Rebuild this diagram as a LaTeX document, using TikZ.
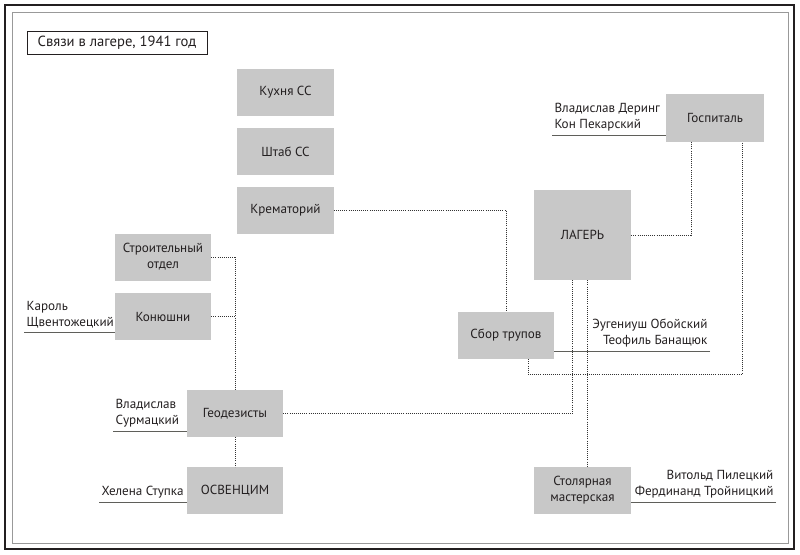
\documentclass[tikz,border=0pt]{standalone}
\usepackage{fontspec}
\setmainfont{PT Sans}
\usetikzlibrary{calc}
\definecolor{boxgray}{RGB}{200,200,200}
\definecolor{ink}{RGB}{35,31,32}
\definecolor{rulegray}{RGB}{95,95,90}

\begin{document}
\begin{tikzpicture}[x=0.03cm, y=-0.03cm,
		box/.style={fill=boxgray, text=ink, align=center, font=\fontsize{11.2}{13.6}\selectfont, minimum width=2.88cm, minimum height=1.41cm, inner sep=0},
		who/.style={text=ink, align=left, font=\fontsize{11.2}{13.6}\selectfont, inner xsep=2pt, inner ysep=3pt},
		uline/.style={line width=0.8pt, color=rulegray},
		link/.style={line width=0.8pt, color=black!80, dash pattern=on 0.7pt off 1.1pt}]
			%%%%% START %%%%%
			
			\useasboundingbox (0, 0) rectangle (800, 555);
			\draw[line width=1.4pt, color=ink] (5, 5) rectangle (794, 549);
			\draw[line width=0.8pt, color=black!40] (12, 12) rectangle (788, 543);
			
			\node[draw=ink, line width=0.7pt, text=ink, font=\fontsize{12.5}{15}\selectfont, minimum width=5.4cm, minimum height=0.69cm, inner sep=0] (title) at (117, 42.5) {Связи в лагере, 1941 год};
			
			\node[box] (kuhnya) at (285.5, 92) {Кухня СС};
			\node[box] (shtab) at (285.5, 151.5) {Штаб СС};
			\node[box] (krem) at (285.5, 210) {Крематорий};
			\node[box] (stroy) at (163, 257) {Строительный\\отдел};
			\node[box] (konyu) at (163, 316.5) {Конюшни};
			\node[box] (geod) at (235, 413.5) {Геодезисты};
			\node[box] (osv) at (235, 490.5) {ОСВЕНЦИМ};
			\node[box, minimum width=2.94cm, minimum height=1.44cm] (gosp) at (715, 118) {Госпиталь};
			\node[box, minimum width=2.91cm, minimum height=2.7cm] (lager) at (582.5, 235) {ЛАГЕРЬ};
			\node[box] (sbor) at (506, 335.5) {Сбор трупов};
			\node[box, minimum width=2.91cm] (stol) at (582.5, 490.5) {Столярная\\мастерская};
			
			\node[who, anchor=south west] (dering) at (552, 135) {Владислав Деринг\\Кон Пекарский};
			\node[who, anchor=south west] (karol) at (24, 332) {Кароль\\Щвентожецкий};
			\node[who, anchor=south west] (surm) at (113, 431) {Владислав\\Сурмацкий};
			\node[who, anchor=south west] (stupka) at (99, 502) {Хелена Ступка};
			\node[who, anchor=south east, align=right] (oboy) at (710, 351) {Эугениуш Обойский\\Теофиль Банащюк};
			\node[who, anchor=south east, align=right] (pilecki) at (776, 502) {Витольд Пилецкий\\Фердинанд Тройницкий};
			
			\draw[uline] (dering.south west) -- (dering.south west -| gosp.west);
			\draw[uline] (karol.south west) -- (karol.south west -| konyu.west);
			\draw[uline] (surm.south west) -- (surm.south west -| geod.west);
			\draw[uline] (stupka.south west) -- (stupka.south west -| osv.west);
			\draw[uline] (oboy.south east) -- (oboy.south east -| sbor.east);
			\draw[uline] (pilecki.south east) -- (pilecki.south east -| stol.east);
			
			\draw[link] (krem.east) -| (sbor.north);
			\draw[link] (stroy.east) -| (geod.north);
			\draw[link] (konyu.east) -- (konyu.east -| geod.north);
			\draw[link] (geod.south) -- (osv.north);
			\draw[link] (geod.east) -| ($(lager.south)+(-10, 0)$);
			\draw[link] ($(lager.south)+(4.5, 0)$) -- ($(stol.north)+(4.5, 0)$);
			\draw[link] (lager.east) -| ($(gosp.south)+(-24, 0)$);
			\draw[link] ($(sbor.south)+(22, 0)$) -- ++(0, 15) -| ($(gosp.south)+(27, 0)$);
			
			%%%%% END %%%%%
		\end{tikzpicture}
\end{document}
